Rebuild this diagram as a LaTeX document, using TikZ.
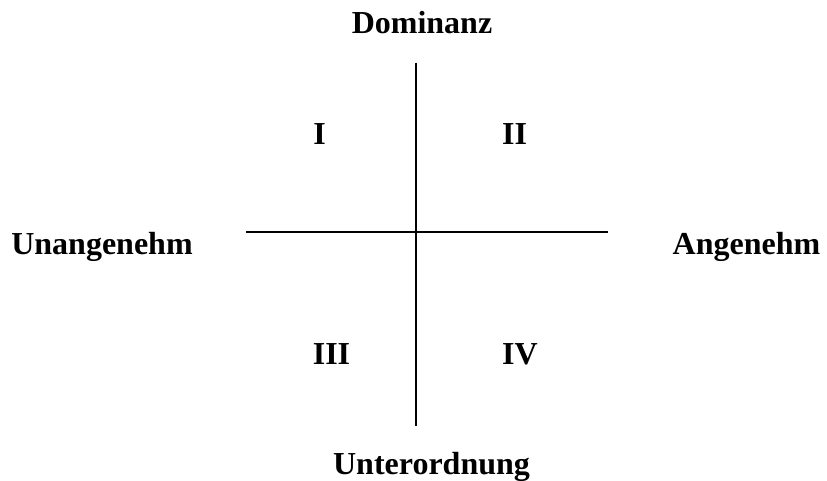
\documentclass[tikz,border=0pt]{standalone}
\usepackage{fontspec}
\setmainfont{Liberation Serif}
\begin{document}
\begin{tikzpicture}[x=1pt,y=1pt,
  lbl/.style={font=\fontsize{32}{38}\selectfont\bfseries, inner sep=0pt, anchor=base},
  axis/.style={line width=2pt}]
\useasboundingbox (0,0) rectangle (827,481);
\coordinate (vt) at (415.7,418.3);
\coordinate (vb) at (415.7,55.3);
\coordinate (hl) at (246,249);
\coordinate (hr) at (608.3,249);
\draw[axis] (vt) -- (vb);
\draw[axis] (hl) -- (hr);
\node[lbl] (dom) at (422,447.7) {Dominanz};
\node[lbl] (unt) at (431.5,6) {Unterordnung};
\node[lbl] (unan) at (102,226) {Unangenehm};
\node[lbl] (ang) at (746.5,226) {Angenehm};
\node[lbl] (q1) at (319.5,336) {I};
\node[lbl] (q2) at (514.5,336) {II};
\node[lbl] (q3) at (331.5,116) {III};
\node[lbl] (q4) at (520,116) {IV};
\end{tikzpicture}
\end{document}
